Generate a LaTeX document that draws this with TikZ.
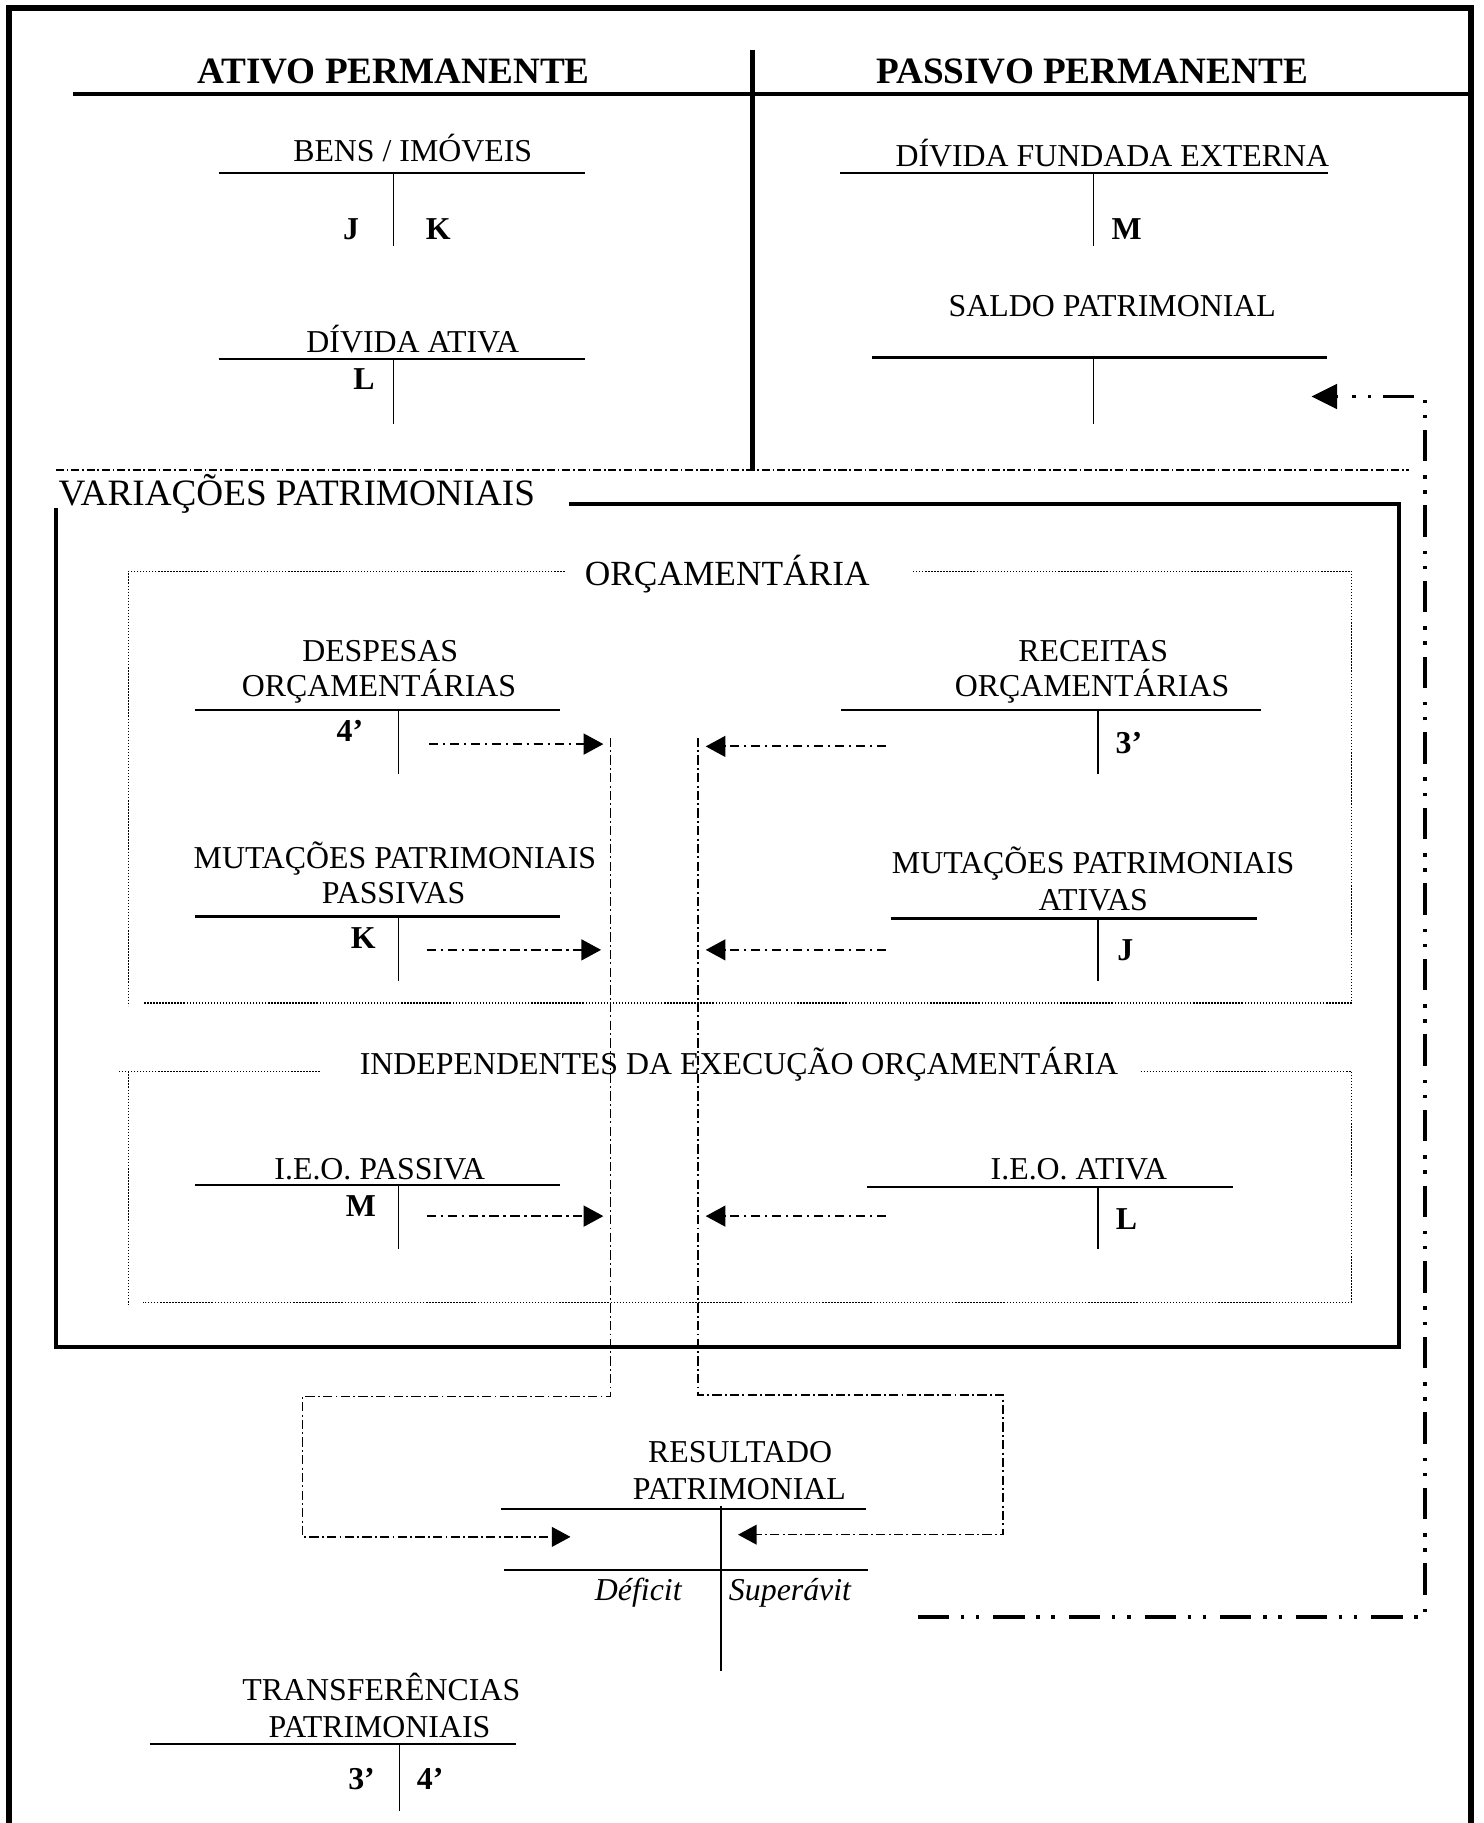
\documentclass[tikz,border=0pt]{standalone}
\usepackage{fontspec}
\setmainfont{Liberation Serif}
\usetikzlibrary{arrows.meta}
\begin{document}
\begin{tikzpicture}[x=0.5pt,y=-0.5pt,
  line join=miter,
  lbl/.style={inner sep=0pt, anchor=base, font=\fontsize{13.7}{16}\selectfont},
  code/.style={inner sep=0pt, anchor=base, font=\fontsize{13.7}{16}\selectfont\bfseries},
  head/.style={inner sep=0pt, anchor=base, font=\fontsize{16}{19}\selectfont\bfseries},
  frame/.style={line width=2.5pt},
  heavy/.style={line width=2pt},
  boxline/.style={line width=1.7pt},
  tbar/.style={line width=0.9pt},
  tstem/.style={line width=0.6pt},
  dotbox/.style={line width=0.55pt, dash pattern=on 0.6pt off 0.7pt},
  sepline/.style={line width=0.8pt, dash pattern=on 3.5pt off 1.2pt on 0.7pt off 1.2pt},
  flow/.style={line width=0.8pt, dash pattern=on 4pt off 2pt on 1pt off 2pt,
    -{Triangle[length=8.5pt,width=9pt]}},
  link/.style={line width=0.6pt, dash pattern=on 4pt off 1.4pt on 0.8pt off 1.4pt},
  bigflow/.style={line width=1.5pt, dash pattern=on 13.5pt off 5pt on 1.5pt off 5pt on 1.5pt off 6pt,
    -{Triangle[length=11pt,width=10.5pt]}}
]
\useasboundingbox (0,0) rectangle (1276,1568);

% outer frame (open at the foot of the page)
\draw[frame] (8,1600) -- (8,7) -- (1265,7) -- (1265,1600);

% permanent balance sheet header
\node[head] (ativo) at (338.5,72) {ATIVO PERMANENTE};
\node[head] (passivo) at (939.3,72) {PASSIVO PERMANENTE};
\draw[heavy] (62.5,81) -- (1265,81);
\draw[heavy] (647,43) -- (647,404);

% Bens / Imoveis
\node[lbl] (bens) at (355,139) {BENS / IMÓVEIS};
\draw[tbar] (188,148.5) -- (503,148.5);
\draw[tstem] (338.5,148.5) -- (338.5,212);
\node[code] (bensJ) at (302,206) {J};
\node[code] (bensK) at (377,206) {K};

% Divida ativa
\node[lbl] (dativa) at (355,303) {DÍVIDA ATIVA};
\draw[tbar] (188,309) -- (503,309);
\draw[tstem] (338.5,309) -- (338.5,364.6);
\node[code] (dativaL) at (313,335) {L};

% Divida fundada externa
\node[lbl] (dfe) at (956.7,143.6) {DÍVIDA FUNDADA EXTERNA};
\draw[tbar] (722.8,148.5) -- (1142.4,148.5);
\draw[tstem] (940.3,148.5) -- (940.3,212);
\node[code] (dfeM) at (969,206) {M};

% Saldo patrimonial
\node[lbl] (saldo) at (956.7,272.4) {SALDO PATRIMONIAL};
\draw[tbar] (749.8,307.5) -- (1141,307.5);
\draw[tstem] (940.3,307.5) -- (940.3,364.6);
\coordinate (saldoIn) at (1128,341);

% separator under the balance sheet
\draw[sepline] (48,404.5) -- (1212,404.5);

% Variacoes patrimoniais
\node[inner sep=0pt, anchor=base west, font=\fontsize{16}{19}\selectfont] (varpat) at (50,435) {VARIAÇÕES PATRIMONIAIS};
\draw[boxline] (489.7,433.6) -- (1203.6,433.6) -- (1203.6,1158.8) -- (48,1158.8) -- (48,436.7);

% Orcamentaria group
\node[inner sep=0pt, anchor=base, font=\fontsize{15.2}{18}\selectfont] (orc) at (625.5,504) {ORÇAMENTÁRIA};
\draw[dotbox] (485.6,491.3) -- (110.5,491.3) -- (110.5,865);
\draw[dotbox] (785.3,491.3) -- (1162.7,491.3) -- (1162.7,862.6) -- (123,862.6);

% Despesas orcamentarias
\node[lbl] (despA) at (327,568.6) {DESPESAS};
\node[lbl] (despB) at (326,599.3) {ORÇAMENTÁRIAS};
\draw[tbar] (168,610.5) -- (482,610.5);
\draw[tstem] (342.6,610.5) -- (342.6,666);
\node[code] (desp4) at (301,638) {4’};

% Receitas orcamentarias
\node[lbl] (recA) at (940.3,568.6) {RECEITAS};
\node[lbl] (recB) at (939.3,599.3) {ORÇAMENTÁRIAS};
\draw[tbar] (723.2,610.5) -- (1085,610.5);
\draw[tstem] (944.4,610.5) -- (944.4,666);
\node[code] (rec3) at (971,648) {3’};

% Mutacoes patrimoniais passivas
\node[lbl] (mppA) at (339.7,747) {MUTAÇÕES PATRIMONIAIS};
\node[lbl] (mppB) at (338.6,777) {PASSIVAS};
\draw[tbar] (168,788.3) -- (482,788.3);
\draw[tstem] (342.6,788.3) -- (342.6,843.6);
\node[code] (mppK) at (312.5,816) {K};

% Mutacoes patrimoniais ativas
\node[lbl] (mpaA) at (940.3,751.5) {MUTAÇÕES PATRIMONIAIS};
\node[lbl] (mpaB) at (940.3,783.5) {ATIVAS};
\draw[tbar] (766,790) -- (1081,790);
\draw[tstem] (944.4,790) -- (944.4,843.6);
\node[code] (mpaJ) at (968,826) {J};

% Independentes da execucao orcamentaria group
\node[lbl] (ieo) at (635.6,924.4) {INDEPENDENTES DA EXECUÇÃO ORÇAMENTÁRIA};
\draw[dotbox] (275,921.5) -- (102,921.5);
\draw[dotbox] (110.5,921.5) -- (110.5,1122);
\draw[dotbox] (981,921.5) -- (1162.7,921.5) -- (1162.7,1120) -- (123,1120);

% I.E.O. passiva
\node[lbl] (ieop) at (326.7,1014.6) {I.E.O. PASSIVA};
\draw[tbar] (168,1019.5) -- (482,1019.5);
\draw[tstem] (342.6,1019.5) -- (342.6,1074);
\node[code] (ieopM) at (310.5,1046) {M};

% I.E.O. ativa
\node[lbl] (ieoa) at (928,1014.6) {I.E.O. ATIVA};
\draw[tbar] (745.7,1021) -- (1060.7,1021);
\draw[tstem] (944.4,1021) -- (944.4,1074);
\node[code] (ieoaL) at (969,1057.6) {L};

% collecting lines towards the result
\coordinate (colL) at (525,634.6);
\coordinate (colR) at (600.4,634.6);
\coordinate (resL) at (490.7,1321.9);
\coordinate (resR) at (634.8,1320);
\draw[link, -{Triangle[length=8pt,width=8.5pt]}] (colL) -- (525,1201) -- (260.4,1201) -- (260.4,1321.9) -- (resL);
\draw[link, -{Triangle[length=8pt,width=8.5pt]}] (colR) -- (600.4,1200) -- (862.7,1200) -- (862.7,1320) -- (resR);

% transfers from each account to the collecting lines
\draw[flow] (369,640) -- (519,640);
\draw[flow] (367,817) -- (517,817);
\draw[flow] (367,1046) -- (519,1046);
\draw[flow] (762,642) -- (607,642);
\draw[flow] (762,817) -- (607,817);
\draw[flow] (762,1046) -- (607,1046);

% Resultado patrimonial
\node[lbl] (resA) at (636.6,1258) {RESULTADO};
\node[lbl] (resB) at (636,1290) {PATRIMONIAL};
\draw[tbar] (431.3,1297.8) -- (744.6,1297.8);
\draw[tbar] (433.8,1350) -- (747,1350);
\draw[tstem] (620.1,1295.5) -- (620.1,1437.4);
\node[lbl, font=\fontsize{13.7}{16}\selectfont\itshape] (deficit) at (549,1377) {Déficit};
\node[lbl, font=\fontsize{13.7}{16}\selectfont\itshape] (superavit) at (679.5,1377) {Superávit};

% result carried to the patrimonial balance
\coordinate (resOut) at (789.4,1390.6);
\draw[bigflow] (resOut) -- (1225.5,1390.6) -- (1225.5,341) -- (saldoIn);

% Transferencias patrimoniais
\node[lbl] (trA) at (328,1463) {TRANSFERÊNCIAS};
\node[lbl] (trB) at (326.4,1494.6) {PATRIMONIAIS};
\draw[tbar] (128.6,1500.4) -- (443.5,1500.4);
\draw[tstem] (343.4,1500.4) -- (343.4,1557.8);
\node[code] (tr3) at (311,1539) {3’};
\node[code] (tr4) at (370,1539) {4’};
\end{tikzpicture}
\end{document}
